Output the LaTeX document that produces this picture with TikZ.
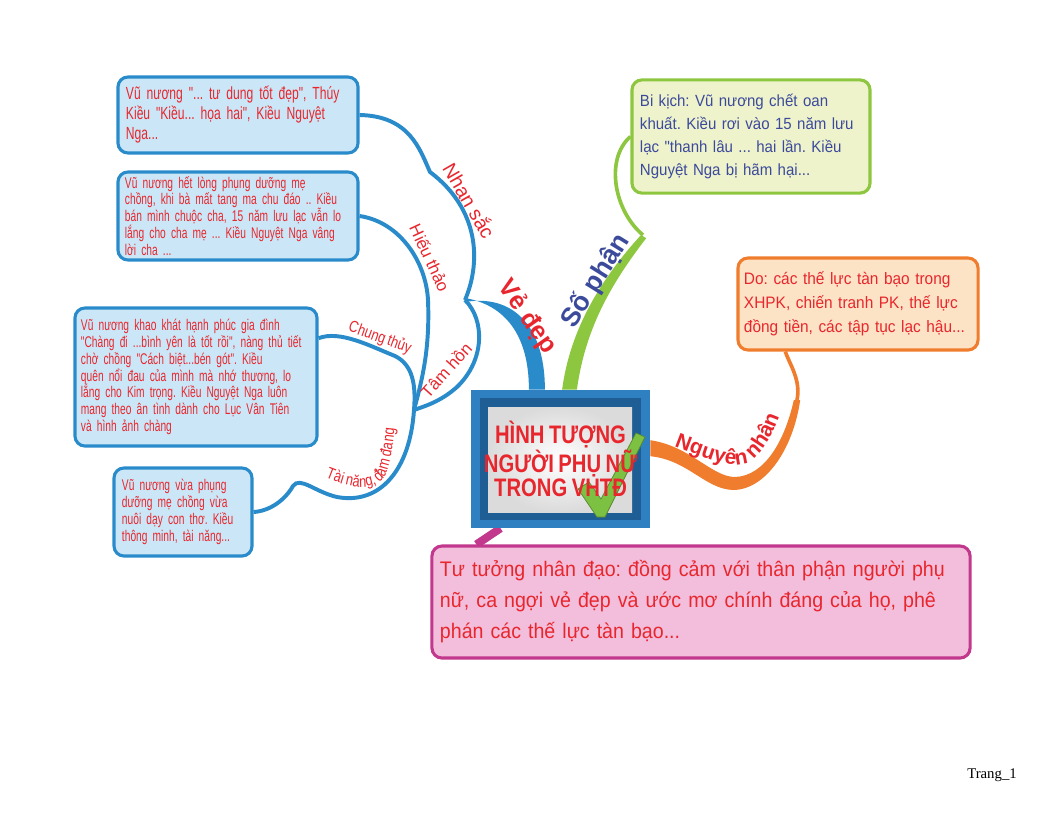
\documentclass[tikz,border=0pt]{standalone}
\usepackage{fontspec}
\setmainfont{Liberation Sans}
\newfontfamily\narrowfont[FakeStretch=0.8, WordSpace=0.8]{Liberation Sans}
\newfontfamily\slimfont[FakeStretch=0.69, WordSpace=0.69]{Liberation Sans}
\newfontfamily\slimmerfont[FakeStretch=0.66, WordSpace=0.66]{Liberation Sans}
\newfontfamily\tightfont[FakeStretch=0.93, WordSpace=0.93]{Liberation Sans}
\newfontfamily\pagefont{Liberation Serif}
\frenchspacing
\usepackage{tikz}
\usetikzlibrary{positioning, decorations.text, backgrounds}

\definecolor{notered}{HTML}{E8262D}
\definecolor{notenavy}{HTML}{3C4A9C}
\definecolor{branchblue}{HTML}{2A8BCB}
\definecolor{beautyfill}{HTML}{CBE7F7}
\definecolor{fategreen}{HTML}{8DC63F}
\definecolor{fatefill}{HTML}{EEF3CB}
\definecolor{causeorange}{HTML}{F07D2D}
\definecolor{causefill}{HTML}{FDE3C5}
\definecolor{ideapink}{HTML}{C2388D}
\definecolor{ideafill}{HTML}{F2BEDC}
\definecolor{hubblue}{HTML}{2F80C1}
\definecolor{hubdark}{HTML}{1F5E95}
\definecolor{checkgreen}{HTML}{7DC143}

\tikzset{
  note/.style={draw, rounded corners=0.25cm, line width=2.2pt, align=left, inner xsep=0.2cm, inner ysep=0.05cm},
  beautynote/.style={note, draw=branchblue, fill=beautyfill, text=notered},
  fatenote/.style={note, draw=fategreen, fill=fatefill, text=notenavy},
  causenote/.style={note, draw=causeorange, fill=causefill, text=notered},
  ideanote/.style={note, draw=ideapink, fill=ideafill, text=notered},
  twig/.style={draw=branchblue, line width=2.8pt},
  twiglabel/.style={text=notered, inner sep=0pt},
  hubframe/.style={fill=hubblue, minimum width=4.475cm, minimum height=3.45cm, inner sep=0pt}
}

\begin{document}
\begin{tikzpicture}[x=0.025cm, y=-0.025cm]
\useasboundingbox (0,0) rectangle (1056,816);

% Chủ đề trung tâm
\node[hubframe] (hub) at (560.5,459) {};
\fill[hubdark] (480,398) rectangle (641,520);
\shade[inner color=white, outer color=black!14] (488,407) rectangle (632,512);
\fill[checkgreen, draw=checkgreen!70!black, line width=0.5pt] (578,489) -- (589,482) -- (601,499) -- (636,433) -- (645,437) -- (605,517) -- (597,517) -- cycle;
\node[text=notered, align=center, font=\fontsize{18}{17.5}\narrowfont\bfseries] (hubtext) at (hub) {HÌNH TƯỢNG\\NGƯỜI PHỤ NỮ\\TRONG VHTĐ};

% Vẻ đẹp
\node[beautynote, minimum width=6cm, minimum height=1.9cm, text width=5.6cm, font=\fontsize{12.5}{14.2}\slimfont] (nhansac) at (238,115) {Vũ nương "... tư dung tốt đẹp", Thúy\\Kiều "Kiều... họa hai", Kiều Nguyệt\\Nga...};
\node[beautynote, minimum width=6cm, minimum height=2.2cm, text width=5.65cm, inner xsep=0.175cm, font=\fontsize{11}{12}\slimmerfont] (hieuthao) at (238,216) {Vũ nương hết lòng phụng dưỡng mẹ\\chồng, khi bà mất tang ma chu đáo .. Kiều\\bán mình chuộc cha, 15 năm lưu lạc vẫn lo\\lắng cho cha mẹ ... Kiều Nguyệt Nga vâng\\lời cha ...};
\node[beautynote, minimum width=6cm, minimum height=3.45cm, text width=5.75cm, inner xsep=0.15cm, font=\fontsize{11}{11.9}\slimmerfont] (chungthuy) at (196,377) {Vũ nương khao khát hạnh phúc gia đình\\"Chàng đi ...bình yên là tốt rồi", nàng thủ tiết\\chờ chồng "Cách biệt...bén gót". Kiều\\quên nổi đau của mình mà nhớ thương, lo\\lắng cho Kim trọng. Kiều Nguyệt Nga luôn\\mang theo ân tình dành cho Lục Vân Tiên\\và hình ảnh chàng};
\node[beautynote, minimum width=3.45cm, minimum height=2.2cm, text width=3.05cm, font=\fontsize{11}{12}\slimmerfont] (tainang) at (183,512) {Vũ nương vừa phụng\\dưỡng mẹ chồng vừa\\nuôi dạy con thơ. Kiều\\thông minh, tài năng...};

% Số phận, nguyên nhân, tư tưởng
\node[fatenote, minimum width=5.95cm, minimum height=2.83cm, text width=5.55cm, font=\fontsize{11.5}{16.4}\tightfont] (bikich) at (751,136.5) {Bi kịch: Vũ nương chết oan\\khuất. Kiều rơi vào 15 năm lưu\\lạc "thanh lâu ... hai lần. Kiều\\Nguyệt Nga bị hãm hại...};
\node[causenote, minimum width=6cm, minimum height=2.3cm, text width=5.7cm, inner xsep=0.15cm, font=\fontsize{11.8}{17}\tightfont] (nguyennhan) at (858,304) {Do: các thế lực tàn bạo trong\\XHPK, chiến tranh PK, thế lực\\đồng tiền, các tập tục lạc hậu...};
\node[ideanote, minimum width=13.45cm, minimum height=2.8cm, text width=13.05cm, font=\fontsize{15}{22}\tightfont] (tutuong) at (701,602) {Tư tưởng nhân đạo: đồng cảm với thân phận người phụ\\nữ, ca ngợi vẻ đẹp và ước mơ chính đáng của họ, phê\\phán các thế lực tàn bạo...};

\coordinate (vedep) at (465,300);
\coordinate (tamhon) at (414,410);
\coordinate (sophan) at (643,235);
\coordinate (cause) at (797,400);

\begin{scope}[on background layer]
  % nhánh xanh dương
  \draw[twig] (vedep) .. controls (482,260) and (478,208) .. (430,172) .. controls (420,150) and (410,116) .. (nhansac.east);
  \draw[twig] (tamhon) .. controls (422,380) and (430,350) .. (428,300) .. controls (426,262) and (400,222) .. (hieuthao.east);
  \draw[twig] (vedep) .. controls (485,320) and (485,360) .. (457,387) .. controls (440,402) and (425,406) .. (tamhon);
  \draw[twig] (tamhon) .. controls (416,385) and (413,365) .. (395,356) .. controls (370,346) and (340,330) .. ([yshift=0.97cm]chungthuy.east);
  \draw[twig] (tamhon) .. controls (410,470) and (380,505) .. (337,497) .. controls (315,492) and (300,476) .. (293,486) .. controls (285,500) and (270,511) .. (tainang.east);
  \fill[branchblue] ([yshift=0.05cm]vedep) .. controls (505,305) and (529,335) .. ([xshift=-0.79cm]hub.north) -- ([xshift=-0.39cm]hub.north) .. controls (545,325) and (512,294) .. ([yshift=-0.05cm]vedep) -- cycle;
  % nhánh xanh lá
  \fill[fategreen] ([xshift=0.04cm]hub.north) .. controls (570,330) and (600,280) .. ([xshift=-0.05cm]sophan) -- ([xshift=0.08cm,yshift=-0.08cm]sophan) .. controls (610,285) and (585,330) .. ([xshift=0.41cm]hub.north) -- cycle;
  \draw[fategreen, line width=2.6pt] (sophan) .. controls (615,212) and (604,160) .. (bikich.west);
  % nhánh cam
  \fill[causeorange] ([yshift=0.47cm]hub.east) .. controls (690,446) and (712,477) .. (735,477) .. controls (765,476) and (785,440) .. ([xshift=-0.08cm]cause) -- ([xshift=0.08cm]cause) .. controls (793,450) and (765,490) .. (733,490) .. controls (705,489) and (688,460) .. ([yshift=0.07cm]hub.east) -- cycle;
  \draw[causeorange, line width=2.6pt] (cause) .. controls (801,380) and (790,365) .. ([xshift=1.22cm]nguyennhan.south west);
  % nhánh hồng
  \draw[ideapink, line width=5.7pt] ([xshift=-1.5cm]hub.south) -- ([xshift=1.15cm]tutuong.north west);
\end{scope}

% nhãn nhánh
\node[twiglabel, rotate=-60, font=\fontsize{14}{14}\selectfont] (lbnhansac) at (470,200) {Nhan sắc};
\node[twiglabel, rotate=-65, font=\fontsize{12}{12}\selectfont] (lbhieuthao) at (430,258) {Hiếu thảo};
\node[twiglabel, rotate=-20, font=\fontsize{11.5}{11.5}\narrowfont] (lbchungthuy) at (380,338) {Chung thủy};
\node[twiglabel, rotate=48, font=\fontsize{12}{12}\selectfont] (lbtamhon) at (446,370) {Tâm hồn};
\path[decorate, decoration={text along path, text align=center, text={|\fontsize{11.5}{11.5}\narrowfont\color{notered}|Tài năng, đảm đang}}] (312,472) .. controls (346,488) and (372,494) .. (385,476) .. controls (391,462) and (394,440) .. (396,414);
\node[twiglabel, rotate=-55, font=\fontsize{18}{18}\bfseries] (lbvedep) at (527,317) {Vẻ đẹp};
\node[text=notenavy, inner sep=0pt, rotate=58, font=\fontsize{19}{19}\bfseries] (lbsophan) at (596,281) {Số phận};
\path[decorate, decoration={text along path, text align=center, text={|\fontsize{15}{15}\bfseries\color{notered}|Nguyên nhân}}] (660,441) .. controls (703,457) and (733,471) .. (750,461) .. controls (764,452) and (775,432) .. (784,402);

\node[font=\fontsize{10.5}{10.5}\pagefont] (trang) at (992,775) {Trang\_1};
\end{tikzpicture}
\end{document}
